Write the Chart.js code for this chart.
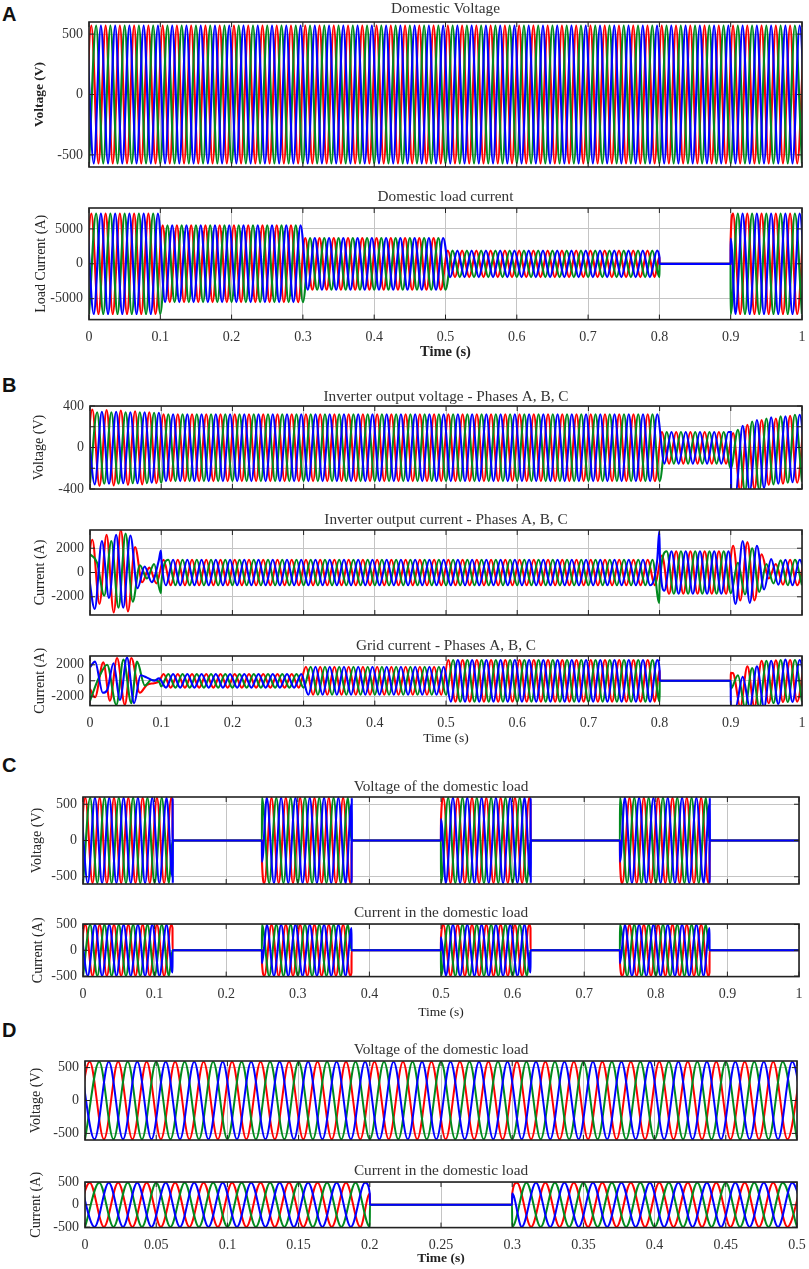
<!DOCTYPE html>
<html lang="en">
<head>
  <meta charset="UTF-8">
  <title>Domestic load waveforms</title>
  <script src="https://cdn.jsdelivr.net/npm/chart.js"></script>
  <style>
    body { margin: 0; background: #fff; width: 809px; height: 1269px; position: relative; overflow: hidden; }
    canvas { position: absolute; left: 0; filter: blur(0.45px); }
    .letter { position: absolute; left: 2px; font: bold 20px/24px "Liberation Sans", Arial, sans-serif; color: #111; }
  </style>
</head>
<body>
  <div class="letter" style="top:2px">A</div>
  <div class="letter" style="top:373px">B</div>
  <div class="letter" style="top:753px">C</div>
  <div class="letter" style="top:1018px">D</div>

  <script>
    // times of the half-cycle peaks, one list per phase (seconds)
    const tR = [-.0067,.0033,.0133,.0233,.0333,.0433,.0533,.0633,.0733,.0833,.0933,.1033,.1133,.1233,.1333,.1433,.1533,.1633,.1733,.1833,.1933,.2033,.2133,.2233,.2333,.2433,.2533,.2633,.2733,.2833,.2933,.3033,.3133,.3233,.3333,.3433,.3533,.3633,.3733,.3833,.3933,.4033,.4133,.4233,.4333,.4433,.4533,.4633,.4733,.4833,.4933,.5033,.5133,.5233,.5333,.5433,.5533,.5633,.5733,.5833,.5933,.6033,.6133,.6233,.6333,.6433,.6533,.6633,.6733,.6833,.6933,.7033,.7133,.7233,.7333,.7433,.7533,.7633,.7733,.7833,.7933,.8033,.8133,.8233,.8333,.8433,.8533,.8633,.8733,.8833,.8933,.9033,.9133,.9233,.9333,.9433,.9533,.9633,.9733,.9833,.9933,1.0033];
    const tG = [0,.01,.02,.03,.04,.05,.06,.07,.08,.09,.1,.11,.12,.13,.14,.15,.16,.17,.18,.19,.2,.21,.22,.23,.24,.25,.26,.27,.28,.29,.3,.31,.32,.33,.34,.35,.36,.37,.38,.39,.4,.41,.42,.43,.44,.45,.46,.47,.48,.49,.5,.51,.52,.53,.54,.55,.56,.57,.58,.59,.6,.61,.62,.63,.64,.65,.66,.67,.68,.69,.7,.71,.72,.73,.74,.75,.76,.77,.78,.79,.8,.81,.82,.83,.84,.85,.86,.87,.88,.89,.9,.91,.92,.93,.94,.95,.96,.97,.98,.99,1];
    const tB = [-.0033,.0067,.0167,.0267,.0367,.0467,.0567,.0667,.0767,.0867,.0967,.1067,.1167,.1267,.1367,.1467,.1567,.1667,.1767,.1867,.1967,.2067,.2167,.2267,.2367,.2467,.2567,.2667,.2767,.2867,.2967,.3067,.3167,.3267,.3367,.3467,.3567,.3667,.3767,.3867,.3967,.4067,.4167,.4267,.4367,.4467,.4567,.4667,.4767,.4867,.4967,.5067,.5167,.5267,.5367,.5467,.5567,.5667,.5767,.5867,.5967,.6067,.6167,.6267,.6367,.6467,.6567,.6667,.6767,.6867,.6967,.7067,.7167,.7267,.7367,.7467,.7567,.7667,.7767,.7867,.7967,.8067,.8167,.8267,.8367,.8467,.8567,.8667,.8767,.8867,.8967,.9067,.9167,.9267,.9367,.9467,.9567,.9667,.9767,.9867,.9967,1.0067];

    const xTicks1 = [0,.1,.2,.3,.4,.5,.6,.7,.8,.9,1];
    const xTicks2 = [0,.05,.1,.15,.2,.25,.3,.35,.4,.45,.5];

    // A, domestic voltage
    const A1R = [
      -570,570,-570,570,-570,570,-570,570,-570,570,-570,570,-570,570,-570,570,-570,570,-570,570,
      -570,570,-570,570,-570,570,-570,570,-570,570,-570,570,-570,570,-570,570,-570,570,-570,570,
      -570,570,-570,570,-570,570,-570,570,-570,570,-570,570,-570,570,-570,570,-570,570,-570,570,
      -570,570,-570,570,-570,570,-570,570,-570,570,-570,570,-570,570,-570,570,-570,570,-570,570,
      -570,570,-570,570,-570,570,-570,570,-570,570,-570,570,-570,570,-570,570,-570,570,-570,570,
      -570,570];
    const A1G = [
      -570,570,-570,570,-570,570,-570,570,-570,570,-570,570,-570,570,-570,570,-570,570,-570,570,
      -570,570,-570,570,-570,570,-570,570,-570,570,-570,570,-570,570,-570,570,-570,570,-570,570,
      -570,570,-570,570,-570,570,-570,570,-570,570,-570,570,-570,570,-570,570,-570,570,-570,570,
      -570,570,-570,570,-570,570,-570,570,-570,570,-570,570,-570,570,-570,570,-570,570,-570,570,
      -570,570,-570,570,-570,570,-570,570,-570,570,-570,570,-570,570,-570,570,-570,570,-570,570,
      -570];
    const A1B = [
      570,-570,570,-570,570,-570,570,-570,570,-570,570,-570,570,-570,570,-570,570,-570,570,-570,
      570,-570,570,-570,570,-570,570,-570,570,-570,570,-570,570,-570,570,-570,570,-570,570,-570,
      570,-570,570,-570,570,-570,570,-570,570,-570,570,-570,570,-570,570,-570,570,-570,570,-570,
      570,-570,570,-570,570,-570,570,-570,570,-570,570,-570,570,-570,570,-570,570,-570,570,-570,
      570,-570,570,-570,570,-570,570,-570,570,-570,570,-570,570,-570,570,-570,570,-570,570,-570,
      570,-570];

    // A, domestic load current
    const A2R = [
      -7200,7200,-7200,7200,-7200,7200,-7200,7200,-7200,7200,-7200,
      5500,-5500,5500,-5500,5500,-5500,5500,-5500,5500,-5500,5500,-5500,5500,-5500,5500,-5500,5500,-5500,5500,-5500,
      3700,-3700,3700,-3700,3700,-3700,3700,-3700,3700,-3700,3700,-3700,3700,-3700,3700,-3700,3700,-3700,3700,-3700,
      1900,-1900,1900,-1900,1900,-1900,1900,-1900,1900,-1900,1900,-1900,1900,-1900,1900,-1900,1900,-1900,1900,-1900,1900,-1900,1900,-1900,1900,-1900,1900,-1900,1900,-1900,
      0,0,0,0,0,0,0,0,0,0,
      7200,-7200,7200,-7200,7200,-7200,7200,-7200,7200,-7200,7200];
    const A2G = [
      -7200,7200,-7200,7200,-7200,7200,-7200,7200,-7200,7200,-7200,
      5500,-5500,5500,-5500,5500,-5500,5500,-5500,5500,-5500,5500,-5500,5500,-5500,5500,-5500,5500,-5500,5500,-5500,
      3700,-3700,3700,-3700,3700,-3700,3700,-3700,3700,-3700,3700,-3700,3700,-3700,3700,-3700,3700,-3700,3700,-3700,
      1900,-1900,1900,-1900,1900,-1900,1900,-1900,1900,-1900,1900,-1900,1900,-1900,1900,-1900,1900,-1900,1900,-1900,1900,-1900,1900,-1900,1900,-1900,1900,-1900,1900,-1900,
      0,0,0,0,0,0,0,0,0,
      -7200,7200,-7200,7200,-7200,7200,-7200,7200,-7200,7200,-7200];
    const A2B = [
      7200,-7200,7200,-7200,7200,-7200,7200,-7200,7200,-7200,7200,
      -5500,5500,-5500,5500,-5500,5500,-5500,5500,-5500,5500,-5500,5500,-5500,5500,-5500,5500,-5500,5500,-5500,5500,
      -3700,3700,-3700,3700,-3700,3700,-3700,3700,-3700,3700,-3700,3700,-3700,3700,-3700,3700,-3700,3700,-3700,3700,
      -1900,1900,-1900,1900,-1900,1900,-1900,1900,-1900,1900,-1900,1900,-1900,1900,-1900,1900,-1900,1900,-1900,1900,-1900,1900,-1900,1900,-1900,1900,-1900,1900,-1900,1900,
      0,0,0,0,0,0,0,0,0,0,
      -7200,7200,-7200,7200,-7200,7200,-7200,7200,-7200,7200,-7200];
    const A2xR = [[.8,950],[.8001,0],[.8999,0],[.9,3600]];
    const A2xG = [[.8001,0],[.8999,0]];
    const A2xB = [[.8,950],[.8001,0],[.8999,0],[.9,3600]];

    // B, inverter voltage
    const B1R = [
      -300,365,-370,360,-365,355,-360,350,-355,340,-345,
      320,-325,320,-325,320,-325,320,-325,320,-325,320,-325,320,-325,320,-325,320,-325,320,-325,
      320,-325,320,-325,320,-325,320,-325,320,-325,320,-325,320,-325,320,-325,320,-325,320,-325,
      320,-325,320,-325,320,-325,320,-325,320,-325,320,-325,320,-325,320,-325,320,-325,320,-325,
      320,-325,320,-325,320,-325,320,-325,320,-325,
      150,-155,150,-155,150,-155,150,-155,150,-155,
      140,-420,220,-400,265,-360,280,-350,305,-340,315];
    const B1G = [
      -340,340,-350,340,-350,340,-345,340,-345,335,-340,
      320,-325,320,-325,320,-325,320,-325,320,-325,320,-325,320,-325,320,-325,320,-325,320,-325,
      320,-325,320,-325,320,-325,320,-325,320,-325,320,-325,320,-325,320,-325,320,-325,320,-325,
      320,-325,320,-325,320,-325,320,-325,320,-325,320,-325,320,-325,320,-325,320,-325,320,-325,
      320,-325,320,-325,320,-325,320,-325,320,-325,
      150,-155,150,-155,150,-155,150,-155,150,
      -200,170,-420,250,-410,280,-355,300,-340,315,-330];
    const B1B = [
      250,-355,345,-350,345,-345,340,-345,340,-340,335,
      -325,320,-325,320,-325,320,-325,320,-325,320,-325,320,-325,320,-325,320,-325,320,-325,320,
      -325,320,-325,320,-325,320,-325,320,-325,320,-325,320,-325,320,-325,320,-325,320,-325,320,
      -325,320,-325,320,-325,320,-325,320,-325,320,-325,320,-325,320,-325,320,-325,320,-325,320,
      -325,320,-325,320,-325,320,-325,320,-325,320,
      -155,150,-155,150,-155,150,-155,150,-155,150,
      -440,210,-420,265,-390,290,-350,300,-335,315,-330];
    const B1xB = [[.9,150],[.9005,-430]];

    // B, inverter current
    const B2R = [
      -2000,2700,-2600,3100,-3300,3500,-3200,2100,-800,400,-900,
      1050,-1050,1050,-1050,1050,-1050,1050,-1050,1050,-1050,1050,-1050,1050,-1050,1050,-1050,1050,-1050,1050,-1050,
      1050,-1050,1050,-1050,1050,-1050,1050,-1050,1050,-1050,1050,-1050,1050,-1050,1050,-1050,1050,-1050,1050,-1050,
      1050,-1050,1050,-1050,1050,-1050,1050,-1050,1050,-1050,1050,-1050,1050,-1050,1050,-1050,1050,-1050,1050,-1050,
      1050,-1050,1050,-1050,1050,-1050,1050,-1050,1050,-1050,
      1400,-1750,1750,-1750,1750,-1750,1750,-1750,1750,-1750,
      2200,-2300,2500,-2300,1500,-500,700,-1000,1050,-1050,1050];
    const B2G = [
      1500,800,-1900,2600,-2900,3200,-2400,600,-500,700,-1000,
      1050,-1050,1050,-1050,1050,-1050,1050,-1050,1050,-1050,1050,-1050,1050,-1050,1050,-1050,1050,-1050,1050,-1050,
      1050,-1050,1050,-1050,1050,-1050,1050,-1050,1050,-1050,1050,-1050,1050,-1050,1050,-1050,1050,-1050,1050,-1050,
      1050,-1050,1050,-1050,1050,-1050,1050,-1050,1050,-1050,1050,-1050,1050,-1050,1050,-1050,1050,-1050,1050,-1050,
      1050,-1050,1050,-1050,1050,-1050,1050,-1050,1050,-1000,
      1750,-1750,1750,-1750,1750,-1750,1750,-1750,1750,
      -1700,800,-1800,2000,-1600,700,-900,1000,-1050,1050,-1050];
    const B2B = [
      500,-3000,2600,-2100,3100,-2900,3050,-1300,500,-800,1000,
      -1050,1050,-1050,1050,-1050,1050,-1050,1050,-1050,1050,-1050,1050,-1050,1050,-1050,1050,-1050,1050,-1050,1050,
      -1050,1050,-1050,1050,-1050,1050,-1050,1050,-1050,1050,-1050,1050,-1050,1050,-1050,1050,-1050,1050,-1050,1050,
      -1050,1050,-1050,1050,-1050,1050,-1050,1050,-1050,1050,-1050,1050,-1050,1050,-1050,1050,-1050,1050,-1050,1050,
      -1050,1050,-1050,1050,-1050,1050,-1050,1050,-1050,1050,
      -1500,1750,-1750,1750,-1750,1750,-1750,1750,-1750,1750,
      -2600,2600,-2500,2200,-1400,1100,-1000,1050,-1050,1050,-1050];
    const B2xG = [[.0995,-1700],[.7995,-2500]];
    const B2xB = [[.0995,1800],[.1005,900],[.7995,3400],[.8005,1200]];

    // B, grid current (the first 0.1 s is read peak by peak in the x lists)
    const B3R = [
      null,null,null,null,null,null,null,null,null,null,null,
      850,-850,850,-850,850,-850,850,-850,850,-850,850,-850,850,-850,850,-850,850,-850,850,-850,
      1750,-1750,1750,-1750,1750,-1750,1750,-1750,1750,-1750,1750,-1750,1750,-1750,1750,-1750,1750,-1750,1750,-1750,
      2600,-2600,2600,-2600,2600,-2600,2600,-2600,2600,-2600,2600,-2600,2600,-2600,2600,-2600,2600,-2600,2600,-2600,2600,-2600,2600,-2600,2600,-2600,2600,-2600,2600,-2600,
      0,0,0,0,0,0,0,0,0,0,
      950,-3300,1800,-3300,2500,-2800,2550,-2650,2600,-2600,2600];
    const B3G = [
      null,null,null,null,null,null,null,null,null,null,-700,
      850,-850,850,-850,850,-850,850,-850,850,-850,850,-850,850,-850,850,-850,850,-850,850,-850,
      1750,-1750,1750,-1750,1750,-1750,1750,-1750,1750,-1750,1750,-1750,1750,-1750,1750,-1750,1750,-1750,1750,-1750,
      2600,-2600,2600,-2600,2600,-2600,2600,-2600,2600,-2600,2600,-2600,2600,-2600,2600,-2600,2600,-2600,2600,-2600,2600,-2600,2600,-2600,2600,-2600,2600,-2600,2600,-2600,
      0,0,0,0,0,0,0,0,0,
      -1000,700,-3300,1600,-3300,2500,-2800,2600,-2650,2600,-2600];
    const B3B = [
      null,null,null,null,null,null,null,null,null,null,null,
      -850,850,-850,850,-850,850,-850,850,-850,850,-850,850,-850,850,-850,850,-850,850,-850,850,
      -1750,1750,-1750,1750,-1750,1750,-1750,1750,-1750,1750,-1750,1750,-1750,1750,-1750,1750,-1750,1750,-1750,1750,
      -2600,2600,-2600,2600,-2600,2600,-2600,2600,-2600,2600,-2600,2600,-2600,2600,-2600,2600,-2600,2600,-2600,2600,-2600,2600,-2600,2600,-2600,2600,-2600,2600,-2600,2600,
      0,0,0,0,0,0,0,0,0,0,
      -3300,500,-3300,1800,-3300,2500,-2900,2650,-2650,2600,-2600];
    const B3xR = [[0,-1000],[.007,-2050],[.0187,2300],[.028,-2500],[.038,2850],[.049,-3000],[.058,2850],[.07,-1500],[.08,-500],[.09,-300],[.097,-100],[.8,1300],[.8001,0],[.8999,0],[.9,1000]];
    const B3xG = [[0,-2500],[.012,300],[.024,2000],[.037,-3000],[.047,2650],[.058,-2800],[.066,2400],[.077,-600],[.086,100],[.097,-100],[.8001,0],[.8999,0]];
    const B3xB = [[0,1700],[.007,2400],[.018,-1500],[.024,-1200],[.033,2200],[.042,-2400],[.052,2900],[.062,-2800],[.071,700],[.08,400],[.09,0],[.097,300],[.8,1300],[.8001,0],[.8999,0],[.9,-3300]];

    // C, voltage of the domestic load
    const C1R = [
      -590,590,-590,590,-590,590,-590,590,-590,590,-590,590,-590,590,
      0,0,0,0,0,0,0,0,0,0,0,0,
      -590,590,-590,590,-590,590,-590,590,-590,590,-590,590,-590,
      0,0,0,0,0,0,0,0,0,0,0,0,
      590,-590,590,-590,590,-590,590,-590,590,-590,590,-590,590,
      0,0,0,0,0,0,0,0,0,0,0,0,
      -590,590,-590,590,-590,590,-590,590,-590,590,-590,590,-590,
      0,0,0,0,0,0,0,0,0,0,0,0,0];
    const C1G = [
      -590,590,-590,590,-590,590,-590,590,-590,590,-590,590,-590,
      0,0,0,0,0,0,0,0,0,0,0,0,
      590,-590,590,-590,590,-590,590,-590,590,-590,590,-590,590,
      0,0,0,0,0,0,0,0,0,0,0,0,
      -590,590,-590,590,-590,590,-590,590,-590,590,-590,590,-590,
      0,0,0,0,0,0,0,0,0,0,0,0,
      590,-590,590,-590,590,-590,590,-590,590,-590,590,-590,590,
      0,0,0,0,0,0,0,0,0,0,0,0,0];
    const C1B = [
      590,-590,590,-590,590,-590,590,-590,590,-590,590,-590,590,
      0,0,0,0,0,0,0,0,0,0,0,0,0,
      590,-590,590,-590,590,-590,590,-590,590,-590,590,-590,
      0,0,0,0,0,0,0,0,0,0,0,0,0,
      -590,590,-590,590,-590,590,-590,590,-590,590,-590,590,
      0,0,0,0,0,0,0,0,0,0,0,0,0,
      590,-590,590,-590,590,-590,590,-590,590,-590,590,-590,
      0,0,0,0,0,0,0,0,0,0,0,0,0,0];
    const C1xR = [[.125,510],[.1251,0],[.2499,0],[.25,-295],[.375,-510],[.3751,0],[.4999,0],[.5,295],[.625,510],[.6251,0],[.7499,0],[.75,-295],[.875,-510],[.8751,0]];
    const CxG = [[.125,0],[.2499,0],[.375,0],[.4999,0],[.625,0],[.7499,0],[.875,0]];
    const C1xB = [[.125,-510],[.1252,590],[.1254,-590],[.1256,0],[.2499,0],[.25,-295],[.375,510],[.3752,-590],[.3754,590],[.3756,0],[.4999,0],[.5,295],[.625,-510],[.6252,590],[.6254,-590],[.6256,0],[.7499,0],[.75,-295],[.875,510],[.8752,-590],[.8754,590],[.8756,0]];

    // C, current in the domestic load
    const C2R = [
      -495,495,-495,495,-495,495,-495,495,-495,495,-495,495,-495,495,
      0,0,0,0,0,0,0,0,0,0,0,0,
      -495,495,-495,495,-495,495,-495,495,-495,495,-495,495,-495,
      0,0,0,0,0,0,0,0,0,0,0,0,
      495,-495,495,-495,495,-495,495,-495,495,-495,495,-495,495,
      0,0,0,0,0,0,0,0,0,0,0,0,
      -495,495,-495,495,-495,495,-495,495,-495,495,-495,495,-495,
      0,0,0,0,0,0,0,0,0,0,0,0,0];
    const C2G = [
      -495,495,-495,495,-495,495,-495,495,-495,495,-495,495,-495,
      0,0,0,0,0,0,0,0,0,0,0,0,
      495,-495,495,-495,495,-495,495,-495,495,-495,495,-495,495,
      0,0,0,0,0,0,0,0,0,0,0,0,
      -495,495,-495,495,-495,495,-495,495,-495,495,-495,495,-495,
      0,0,0,0,0,0,0,0,0,0,0,0,
      495,-495,495,-495,495,-495,495,-495,495,-495,495,-495,495,
      0,0,0,0,0,0,0,0,0,0,0,0,0];
    const C2B = [
      495,-495,495,-495,495,-495,495,-495,495,-495,495,-495,495,
      0,0,0,0,0,0,0,0,0,0,0,0,0,
      495,-495,495,-495,495,-495,495,-495,495,-495,495,-495,
      0,0,0,0,0,0,0,0,0,0,0,0,0,
      -495,495,-495,495,-495,495,-495,495,-495,495,-495,495,
      0,0,0,0,0,0,0,0,0,0,0,0,0,
      495,-495,495,-495,495,-495,495,-495,495,-495,495,-495,
      0,0,0,0,0,0,0,0,0,0,0,0,0,0];
    const C2xR = [[.125,430],[.1251,0],[.2499,0],[.25,-250],[.375,-430],[.3751,0],[.4999,0],[.5,250],[.625,430],[.6251,0],[.7499,0],[.75,-250],[.875,-430],[.8751,0]];
    const C2xB = [[.125,-430],[.1251,0],[.2499,0],[.25,-250],[.375,430],[.3751,0],[.4999,0],[.5,250],[.625,-430],[.6251,0],[.7499,0],[.75,-250],[.875,430],[.8751,0]];

    // D, voltage of the domestic load
    const D1R = [
      -590,590,-590,590,-590,590,-590,590,-590,590,-590,590,-590,590,-590,590,-590,590,-590,590,
      -590,590,-590,590,-590,590,-590,590,-590,590,-590,590,-590,590,-590,590,-590,590,-590,590,
      -590,590,-590,590,-590,590,-590,590,-590,590,-590,590];
    const D1G = [
      -590,590,-590,590,-590,590,-590,590,-590,590,-590,590,-590,590,-590,590,-590,590,-590,590,
      -590,590,-590,590,-590,590,-590,590,-590,590,-590,590,-590,590,-590,590,-590,590,-590,590,
      -590,590,-590,590,-590,590,-590,590,-590,590,-590];
    const D1B = [
      590,-590,590,-590,590,-590,590,-590,590,-590,590,-590,590,-590,590,-590,590,-590,590,-590,
      590,-590,590,-590,590,-590,590,-590,590,-590,590,-590,590,-590,590,-590,590,-590,590,-590,
      590,-590,590,-590,590,-590,590,-590,590,-590,590,-590];

    // D, current in the domestic load
    const D2R = [
      -495,495,-495,495,-495,495,-495,495,-495,495,-495,495,-495,495,-495,495,-495,495,-495,495,-495,
      0,0,0,0,0,0,0,0,0,0,
      495,-495,495,-495,495,-495,495,-495,495,-495,495,-495,495,-495,495,-495,495,-495,495,-495,495];
    const D2G = [
      -495,495,-495,495,-495,495,-495,495,-495,495,-495,495,-495,495,-495,495,-495,495,-495,495,-495,
      0,0,0,0,0,0,0,0,0,
      -495,495,-495,495,-495,495,-495,495,-495,495,-495,495,-495,495,-495,495,-495,495,-495,495,-495];
    const D2B = [
      495,-495,495,-495,495,-495,495,-495,495,-495,495,-495,495,-495,495,-495,495,-495,495,-495,495,
      0,0,0,0,0,0,0,0,0,0,
      -495,495,-495,495,-495,495,-495,495,-495,495,-495,495,-495,495,-495,495,-495,495,-495,495,-495];
    const D2xR = [[.2,250],[.2001,0],[.2999,0],[.3,250]];
    const D2xG = [[.2001,0],[.2999,0]];
    const D2xB = [[.2,250],[.2001,0],[.2999,0],[.3,250]];

    const serif = '"Liberation Serif", "Times New Roman", serif';
    const textColor = '#333';

    // zip a peak list with its times, add the extra points, keep x sorted
    function points(times, vals, extra) {
      const pts = [];
      vals.forEach((v, i) => { if (v !== null) pts.push({ x: times[i], y: v }); });
      (extra || []).forEach(p => pts.push({ x: p[0], y: p[1] }));
      return pts.sort((a, b) => a.x - b.x);
    }

    // frame and the small inward ticks, over the waves
    const frame = {
      id: 'frame',
      afterDraw(chart) {
        const { ctx, chartArea: a, scales } = chart;
        ctx.save();
        ctx.strokeStyle = '#222';
        ctx.lineWidth = 1;
        ctx.beginPath();
        scales.x.ticks.forEach(t => {
          const px = scales.x.getPixelForValue(t.value);
          ctx.moveTo(px, a.top); ctx.lineTo(px, a.top + 5);
          ctx.moveTo(px, a.bottom); ctx.lineTo(px, a.bottom - 5);
        });
        scales.y.ticks.forEach(t => {
          const py = scales.y.getPixelForValue(t.value);
          ctx.moveTo(a.left, py); ctx.lineTo(a.left + 5, py);
          ctx.moveTo(a.right, py); ctx.lineTo(a.right - 5, py);
        });
        ctx.stroke();
        ctx.lineWidth = 1.6;
        ctx.strokeRect(a.left, a.top, a.right - a.left, a.bottom - a.top);
        ctx.restore();
      }
    };

    function panel(p) {
      const head = 24, lh = 15.3 * 1.2;
      const plotH = p.bottom - p.top;
      const foot = p.timeGap ? p.timeGap + 8.4 : 10;
      const cv = document.createElement('canvas');
      cv.width = 809;
      cv.height = Math.ceil(head + plotH + foot);
      cv.style.top = (p.top - head) + 'px';
      document.body.appendChild(cv);
      const padB = p.titleGap - lh / 2;
      const padL = p.yTitleX - 8.4;
      const line = (label, data, color, order) => ({
        label, data, borderColor: color, borderWidth: p.lw, pointRadius: 0,
        cubicInterpolationMode: 'monotone', order
      });
      new Chart(cv, {
        type: 'line',
        data: {
          datasets: [
            line('Phase A', p.red, '#ff0000', 3),
            line('Phase B', p.green, '#008a1e', 2),
            line('Phase C', p.blue, '#0000ff', 1)
          ]
        },
        options: {
          responsive: false,
          animation: false,
          layout: { autoPadding: false, padding: { left: padL, right: 809 - p.right, top: 0, bottom: 0 } },
          plugins: {
            legend: { display: false },
            tooltip: { enabled: false },
            title: {
              display: true, text: p.title, color: textColor, fullSize: false,
              font: { family: serif, size: 15.3, weight: 'normal' },
              padding: { top: head - lh - padB, bottom: padB }
            }
          },
          scales: {
            x: {
              type: 'linear', min: 0, max: p.xTicks[p.xTicks.length - 1],
              afterBuildTicks: s => { s.ticks = p.xTicks.map(v => ({ value: v })); },
              afterFit: s => { s.height = foot; s.paddingLeft = 0; s.paddingRight = 0; },
              grid: { color: '#c4c4c4', lineWidth: 1, drawTicks: false },
              border: { display: false },
              ticks: {
                display: !!p.timeGap, autoSkip: false, maxRotation: 0, padding: 9, color: textColor,
                font: { family: serif, size: 14 }, callback: v => String(v)
              },
              title: {
                display: !!p.timeGap, text: 'Time (s)', color: '#222', padding: 0,
                font: { family: serif, size: p.timeSize || 13.5, weight: p.boldTime ? 'bold' : 'normal' }
              }
            },
            y: {
              min: -p.yMax, max: p.yMax,
              afterBuildTicks: s => { s.ticks = p.yTicks.map(v => ({ value: v })); },
              afterFit: s => { s.width = p.left - padL; s.paddingTop = 0; s.paddingBottom = 0; },
              grid: { color: '#c4c4c4', lineWidth: 1, drawTicks: false },
              border: { display: false },
              ticks: {
                autoSkip: false, padding: 6, color: textColor,
                font: { family: serif, size: 14 },
                callback: v => (p.yLabels.includes(v) ? String(v) : '')
              },
              title: {
                display: true, text: p.yTitle, color: '#222', padding: 0,
                font: { family: serif, size: p.boldY ? 13.5 : 14, weight: p.boldY ? 'bold' : 'normal' }
              }
            }
          }
        },
        plugins: [frame]
      });
    }

    panel({ title: 'Domestic Voltage', yTitle: 'Voltage (V)', boldY: true, lw: 2.2, left: 89, right: 802, top: 22, bottom: 167,
      titleGap: 13, yTitleX: 40, yMax: 600, yTicks: [-500,0,500], yLabels: [-500,0,500], xTicks: xTicks1,
      red: points(tR, A1R), green: points(tG, A1G), blue: points(tB, A1B) });
    panel({ title: 'Domestic load current', yTitle: 'Load Current (A)', boldTime: true, timeSize: 14.5, lw: 2.2, left: 89, right: 802, top: 208, bottom: 319,
      titleGap: 11, yTitleX: 41, yMax: 8000, yTicks: [-5000,0,5000], yLabels: [-5000,0,5000], xTicks: xTicks1, timeGap: 33,
      red: points(tR, A2R, A2xR), green: points(tG, A2G, A2xG), blue: points(tB, A2B, A2xB) });

    panel({ title: 'Inverter output voltage - Phases A, B, C', yTitle: 'Voltage (V)', lw: 2.1, left: 90, right: 802, top: 406, bottom: 489,
      titleGap: 9, yTitleX: 39, yMax: 400, yTicks: [-400,-200,0,200,400], yLabels: [-400,0,400], xTicks: xTicks1,
      red: points(tR, B1R), green: points(tG, B1G), blue: points(tB, B1B, B1xB) });
    panel({ title: 'Inverter output current - Phases A, B, C', yTitle: 'Current (A)', lw: 2.1, left: 90, right: 802, top: 530, bottom: 615,
      titleGap: 10, yTitleX: 40, yMax: 3500, yTicks: [-2000,0,2000], yLabels: [-2000,0,2000], xTicks: xTicks1,
      red: points(tR, B2R), green: points(tG, B2G, B2xG), blue: points(tB, B2B, B2xB) });
    panel({ title: 'Grid current - Phases A, B, C', yTitle: 'Current (A)', lw: 2.1, left: 90, right: 802, top: 656, bottom: 705,
      titleGap: 10, yTitleX: 40, yMax: 3100, yTicks: [-2000,0,2000], yLabels: [-2000,0,2000], xTicks: xTicks1, timeGap: 33,
      red: points(tR, B3R, B3xR), green: points(tG, B3G, B3xG), blue: points(tB, B3B, B3xB) });

    panel({ title: 'Voltage of the domestic load', yTitle: 'Voltage (V)', lw: 2.1, left: 83, right: 799, top: 797, bottom: 884,
      titleGap: 10, yTitleX: 37, yMax: 600, yTicks: [-500,0,500], yLabels: [-500,0,500], xTicks: xTicks1,
      red: points(tR, C1R, C1xR), green: points(tG, C1G, CxG), blue: points(tB, C1B, C1xB) });
    panel({ title: 'Current in the domestic load', yTitle: 'Current (A)', lw: 2.1, left: 83, right: 799, top: 924, bottom: 976,
      titleGap: 11, yTitleX: 38, yMax: 510, yTicks: [-500,0,500], yLabels: [-500,0,500], xTicks: xTicks1, timeGap: 36,
      red: points(tR, C2R, C2xR), green: points(tG, C2G, CxG), blue: points(tB, C2B, C2xB) });

    panel({ title: 'Voltage of the domestic load', yTitle: 'Voltage (V)', lw: 2, left: 85, right: 797, top: 1061, bottom: 1140,
      titleGap: 11, yTitleX: 36, yMax: 600, yTicks: [-500,0,500], yLabels: [-500,0,500], xTicks: xTicks2,
      red: points(tR, D1R), green: points(tG, D1G), blue: points(tB, D1B) });
    panel({ title: 'Current in the domestic load', yTitle: 'Current (A)', boldTime: true, lw: 2, left: 85, right: 797, top: 1182, bottom: 1227,
      titleGap: 11, yTitleX: 36, yMax: 510, yTicks: [-500,0,500], yLabels: [-500,0,500], xTicks: xTicks2, timeGap: 31,
      red: points(tR, D2R, D2xR), green: points(tG, D2G, D2xG), blue: points(tB, D2B, D2xB) });
  </script>
</body>
</html>
